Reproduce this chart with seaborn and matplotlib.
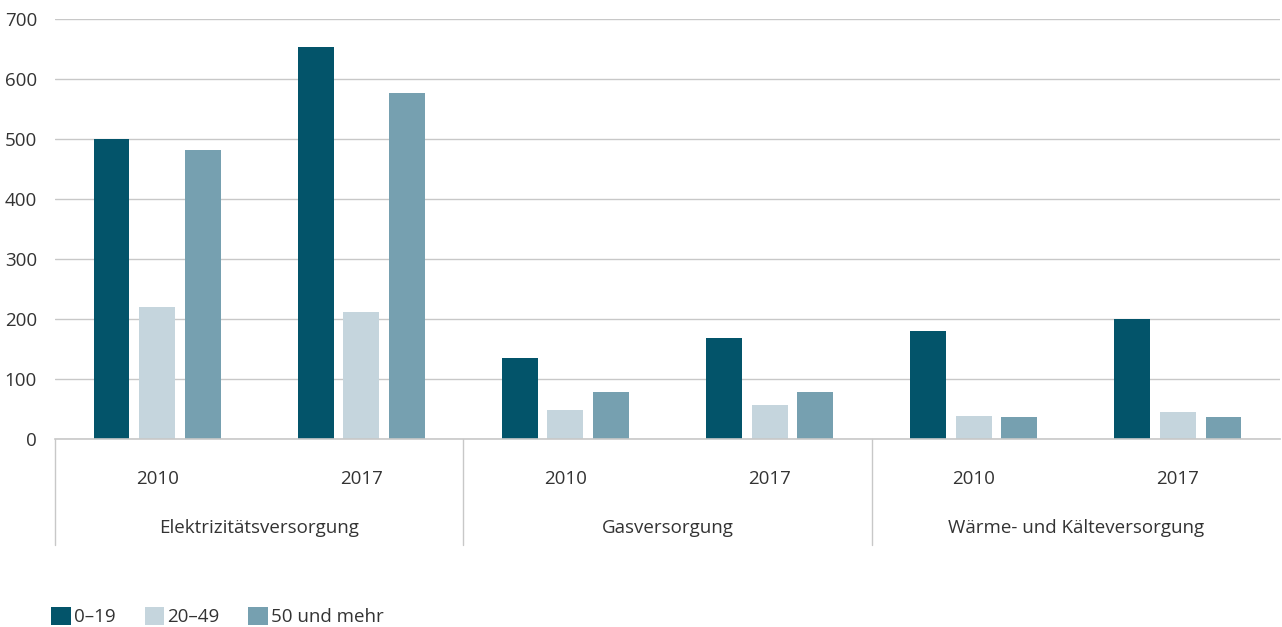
import matplotlib
matplotlib.use("Agg")
import matplotlib.pyplot as plt
import matplotlib.transforms as mtransforms
from matplotlib.patches import Patch
import pandas as pd
import seaborn as sns

# Data: companies by size class per supply sector and year
sectors = ["Elektrizitätsversorgung", "Gasversorgung", "Wärme- und Kälteversorgung"]
years = ["2010", "2017"]
size_classes = ["0–19", "20–49", "50 und mehr"]
values_0_19 = [500, 653, 135, 168, 180, 200]
values_20_49 = [220, 212, 48, 57, 38, 45]
values_50_plus = [482, 577, 78, 78, 36, 37]
y_ticks = [0, 100, 200, 300, 400, 500, 600, 700]

colors = ["#03546a", "#c5d5dd", "#76a0b0"]
text_color = "#333333"
grid_color = "#c8c8c8"

slots = [f"{s}|{y}" for s in sectors for y in years]
rows = []
for cls, vals in zip(size_classes, [values_0_19, values_20_49, values_50_plus]):
    for slot, v in zip(slots, vals):
        rows.append({"slot": slot, "Größe": cls, "Anzahl": v})
df = pd.DataFrame(rows)

sns.set_theme(style="white")
plt.rcParams["font.family"] = ["Open Sans", "DejaVu Sans"]
fs = 13.5

fig = plt.figure(figsize=(12.82, 6.27), dpi=100)
ax = fig.add_axes([55 / 1282, 1 - 439 / 627, (1280 - 55) / 1282, 420 / 627])

sns.barplot(data=df, x="slot", y="Anzahl", hue="Größe", order=slots,
            hue_order=size_classes, palette=colors, width=0.67,
            saturation=1, legend=False, ax=ax, linewidth=0)

# narrow the bars so each one stands apart from its neighbour
bar_w = 0.176
for p in ax.patches:
    cx = p.get_x() + p.get_width() / 2
    p.set_x(cx - bar_w / 2)
    p.set_width(bar_w)

ax.set_ylim(0, 700)
ax.set_xlim(-0.5, len(slots) - 0.5)
ax.set_yticks(y_ticks)
ax.set_yticklabels([str(t) for t in y_ticks])
ax.yaxis.grid(True, color=grid_color, linewidth=1)
ax.set_axisbelow(True)
for side in ["top", "right", "left"]:
    ax.spines[side].set_visible(False)
ax.spines["bottom"].set_color(grid_color)
ax.spines["bottom"].set_linewidth(1.2)

ax.set_xticks(range(len(slots)))
ax.set_xticklabels([s.split("|")[1] for s in slots])
ax.tick_params(axis="x", length=0, pad=22, labelsize=fs, colors=text_color)
ax.tick_params(axis="y", length=0, pad=13, labelsize=fs, colors=text_color)
ax.set_xlabel("")
ax.set_ylabel("")

# sector labels and separators below the axis
trans = mtransforms.blended_transform_factory(ax.transData, ax.transAxes)
axis_h_px = 420
for i, sector in enumerate(sectors):
    ax.text(2 * i + 0.5, -89 / axis_h_px, sector, transform=trans,
            ha="center", va="center", fontsize=fs, color=text_color)
for xb in [-0.5, 1.5, 3.5]:
    ax.plot([xb, xb], [0, -106 / axis_h_px], transform=trans,
            color=grid_color, linewidth=1, clip_on=False)

handles = [Patch(facecolor=c, edgecolor="none") for c in colors]
fig.legend(handles, size_classes, loc="lower left", bbox_to_anchor=(0.027, -0.026),
           ncol=3, frameon=False, fontsize=fs, handlelength=1.05,
           handleheight=1.05, handletextpad=0.15, columnspacing=1.55,
           labelcolor=text_color)

fig.savefig("out.png", dpi=100)
